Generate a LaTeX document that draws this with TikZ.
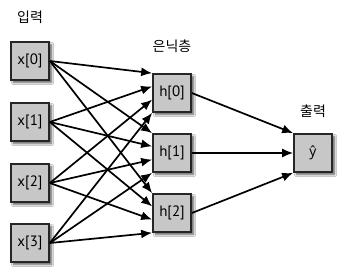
\documentclass[tikz,border=0pt]{standalone}
\usepackage{fontspec}
\setmainfont{Noto Sans CJK KR}
\newfontfamily\boxfont{PT Sans}
\newfontfamily\yfont{Open Sans}
\usetikzlibrary{arrows.meta,shadows.blur,calc}
\begin{document}
\begin{tikzpicture}[x=1pt,y=-1pt,
  unit/.style={draw=black!85,line width=1.7pt,fill=black!22,minimum width=38pt,minimum height=38pt,inner sep=0pt,font=\boxfont\fontsize{15}{17}\selectfont,
    blur shadow={shadow blur steps=6,shadow xshift=2.5pt,shadow yshift=-2.5pt,shadow opacity=65}},
  lbl/.style={font=\fontsize{14}{16}\selectfont},
  conn/.style={line width=1.7pt,-{Latex[length=11pt,width=9pt]}}]
\useasboundingbox (0,0) rectangle (350,279);
\fill[white] (0,0) rectangle (350,279);
\node[lbl] (lin) at (30,17) {입력};
\node[lbl] (lhid) at (172,46) {은닉층};
\node[lbl] (lout) at (313,111) {출력};
\node[unit] (x0) at (30,61) {x[0]};
\node[unit] (x1) at (30,122) {x[1]};
\node[unit] (x2) at (30,183) {x[2]};
\node[unit] (x3) at (30,243) {x[3]};
\node[unit] (h0) at (172,93) {h[0]};
\node[unit] (h1) at (172,153) {h[1]};
\node[unit] (h2) at (172,213) {h[2]};
\node[unit] (y) at (313,153) {\yfont\fontsize{14}{16}\selectfont ŷ};
\foreach \h in {0,1,2}{
  \foreach \i in {0,1,2,3}{
    \draw[conn] (x\i.east) -- ($(h\h.north west)!\i/3!(h\h.south west)$);
  }
  \draw[conn] (h\h.east) -- ($(y.north west)!\h/2!(y.south west)$);
}
\end{tikzpicture}
\end{document}
